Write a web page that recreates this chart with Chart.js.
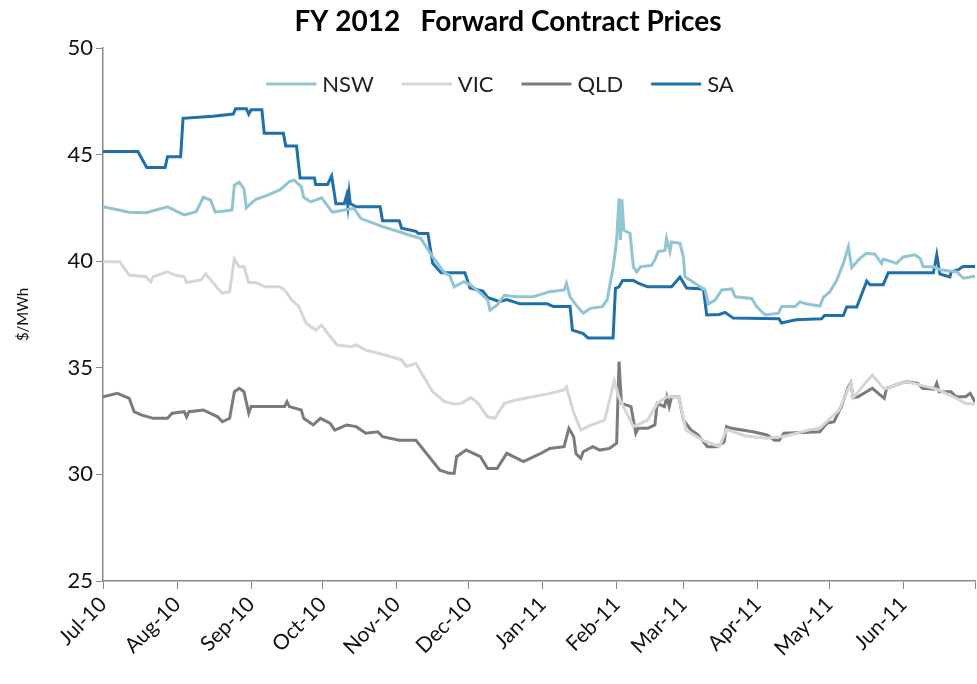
<!DOCTYPE html>
<html lang="en">
<head>
    <meta charset="UTF-8">
    <title>FY 2012 Forward Contract Prices</title>
    <style>
        html, body { margin: 0; padding: 0; background: #fff; overflow: hidden; }
        .chart-container { width: 977px; height: 684px; position: relative; }
    </style>
</head>
<body>
<div class="chart-container">
    <canvas id="prices"></canvas>
</div>

<script src="https://cdn.jsdelivr.net/npm/chart.js@4.4.1/dist/chart.umd.min.js"></script>
<script>
    // x values are days since 1 Jul 2010
    const monthTicks = [0, 31, 62, 92, 123, 153, 184, 215, 243, 274, 304, 335, 365];
    const monthLabels = ['Jul-10', 'Aug-10', 'Sep-10', 'Oct-10', 'Nov-10', 'Dec-10',
        'Jan-11', 'Feb-11', 'Mar-11', 'Apr-11', 'May-11', 'Jun-11', ''];

    const seriesNames = ['NSW', 'VIC', 'QLD', 'SA'];

    const nswDays = [0, 11, 18, 27, 34, 39, 42, 45, 47, 54, 55, 57, 59, 60, 62, 64, 69, 74, 78, 80, 83, 84, 87, 91.5,
        96, 101, 105, 108, 117, 124, 128, 133, 138, 143, 145, 147, 151, 154, 158, 161, 162, 165, 168, 173, 180,
        187, 193, 194, 195.5, 198, 201, 204, 209, 211, 213.6, 215, 216, 216.6, 217.2, 218, 220.6, 222, 223.4, 225,
        229.6, 231, 232.4, 235.2, 235.9, 237.3, 238, 241.5, 242.9, 243.6, 252, 253.4, 256.2, 259, 263.2, 264.6,
        271.5, 273.6, 277.1, 282.7, 284.1, 289.7, 291.8, 294, 300.1, 301.5, 304.3, 307.1, 309.9, 312, 313.4,
        316.8, 319.6, 323.1, 325.9, 326.6, 332.2, 335, 339.9, 342, 343.4, 347.6, 350.4, 357.4, 360.2, 365];
    const nswPrices = [42.55, 42.3, 42.27, 42.55, 42.17, 42.32, 43.0, 42.87, 42.3, 42.4, 43.57, 43.7, 43.4, 42.5,
        42.72, 42.9, 43.1, 43.34, 43.73, 43.8, 43.5, 43.0, 42.78, 42.97, 42.3, 42.4, 42.48, 42.0, 41.62, 41.38,
        41.23, 41.07, 40.2, 39.45, 39.35, 38.8, 39.04, 38.88, 38.5, 38.18, 37.7, 37.95, 38.4, 38.33, 38.33, 38.57,
        38.65, 38.96, 38.33, 37.95, 37.56, 37.79, 37.87, 38.18, 39.74, 40.99, 42.95, 41.0, 42.9, 41.46, 41.3,
        39.74, 39.5, 39.74, 39.8, 40.06, 40.45, 40.5, 41.07, 40.45, 40.9, 40.84, 40.21, 39.27, 38.65, 38.0, 38.18,
        38.65, 38.7, 38.33, 38.25, 37.87, 37.48, 37.56, 37.87, 37.87, 38.1, 38.0, 37.9, 38.3, 38.57, 39.1, 39.9,
        40.68, 39.7, 40.13, 40.37, 40.33, 39.9, 40.1, 39.9, 40.2, 40.3, 40.13, 39.74, 39.74, 39.6, 39.5, 39.2, 39.3];

    const vicDays = [0, 7, 11, 18, 20, 21, 27, 30, 34, 35, 41, 43, 48, 50, 53, 54.5, 55, 57, 59, 61, 64, 68, 74, 76,
        79, 82, 85, 89, 91.5, 94, 98, 104, 106, 110, 118, 125, 127, 131, 133, 138, 143, 147, 150, 154, 157, 161,
        164, 168, 173, 187, 193, 194, 197, 200, 204, 210, 214, 216, 222, 228, 232, 236, 241, 244, 251, 258, 261,
        269, 278, 286, 296, 300, 308, 313, 314, 322, 327, 336, 349, 356, 361, 365];
    const vicPrices = [39.98, 39.98, 39.35, 39.27, 39.04, 39.27, 39.5, 39.35, 39.27, 39.0, 39.12, 39.4, 38.73, 38.5,
        38.57, 39.74, 40.1, 39.74, 39.74, 39.0, 39.0, 38.8, 38.8, 38.65, 38.18, 37.87, 37.09, 36.77, 37.0, 36.62,
        36.07, 35.99, 36.07, 35.83, 35.6, 35.37, 35.06, 35.21, 34.82, 33.88, 33.41, 33.3, 33.33, 33.6, 33.33, 32.7,
        32.63, 33.33, 33.49, 33.8, 33.96, 34.1, 32.9, 32.08, 32.3, 32.55, 34.4, 33.6, 32.24, 32.55, 33.33, 33.64,
        33.64, 32.08, 31.6, 31.3, 32.1, 31.8, 31.7, 31.8, 32.1, 32.16, 33.0, 34.27, 33.6, 34.66, 34.0, 34.35, 34.0,
        33.64, 33.33, 33.3];

    const qldDays = [0, 6, 11, 13, 16, 21, 27, 29, 34, 35, 36, 42, 48, 50, 53, 55, 57, 59, 61, 62, 64, 76, 77, 78,
        83, 84, 88, 91, 95, 97, 102, 106, 110, 115, 117, 124, 131, 141, 145, 147, 148, 152, 158, 161, 165, 169,
        176, 183, 187, 193, 195, 197, 198, 200, 201, 205, 208, 212, 215, 216, 217, 221, 223, 224, 228, 231, 232,
        235, 236, 237, 238, 241, 243, 246, 249, 253, 257, 260, 261, 263, 272, 278, 281, 283, 285, 300, 303, 306,
        309, 312, 313, 314, 316, 322, 327, 328, 336, 341, 343, 348, 349, 350, 355, 357, 361, 363, 365];
    const qldPrices = [33.64, 33.8, 33.57, 32.94, 32.79, 32.63, 32.63, 32.87, 32.94, 32.7, 32.94, 33.02, 32.7, 32.47,
        32.63, 33.88, 34.04, 33.88, 32.87, 33.18, 33.18, 33.18, 33.41, 33.18, 33.02, 32.63, 32.32, 32.63, 32.4,
        32.08, 32.32, 32.24, 31.93, 32.0, 31.77, 31.6, 31.6, 30.2, 30.05, 30.05, 30.83, 31.14, 30.83, 30.28, 30.28,
        30.99, 30.6, 30.97, 31.22, 31.3, 32.16, 31.77, 30.97, 30.75, 31.06, 31.3, 31.14, 31.22, 31.46, 35.29,
        33.33, 33.18, 31.93, 32.16, 32.16, 32.32, 33.33, 33.18, 33.64, 33.18, 33.64, 33.64, 32.55, 32.1, 31.85,
        31.3, 31.3, 31.53, 32.24, 32.16, 32.0, 31.85, 31.6, 31.6, 31.93, 32.0, 32.4, 32.47, 33.18, 34.1, 34.3,
        33.6, 33.64, 34.04, 33.57, 34.04, 34.35, 34.27, 34.04, 34.0, 34.27, 33.88, 33.88, 33.64, 33.64, 33.8, 33.4];

    const saDays = [0, 14.6, 18.3, 26, 27, 32.5, 33.5, 46, 54.5, 55.5, 60, 61, 62, 66.5, 67.5, 75.5, 76.5, 81, 82.5,
        88.5, 89, 94, 95.7, 97.5, 101, 102, 102.5, 103, 103.5, 106, 116, 117, 124, 125, 131, 132, 136, 138, 141.5,
        151.5, 153.6, 159, 161, 166, 169, 174.5, 186, 188.5, 195.5, 196.5, 201, 203, 213.5, 214.5, 216, 217.5, 222,
        224, 228, 238, 241.5, 244.3, 251.3, 252.7, 258, 260.4, 263.8, 283, 284, 290, 300.8, 302, 309.9, 311.3,
        315.5, 319.7, 321, 326.6, 328.7, 347.6, 349, 350.3, 354.5, 355, 358, 360, 365];
    const saPrices = [45.15, 45.15, 44.4, 44.4, 44.9, 44.9, 46.7, 46.8, 46.9, 47.15, 47.15, 46.9, 47.1, 47.1, 46.0,
        46.0, 45.4, 45.4, 43.9, 43.9, 43.6, 43.6, 44.0, 42.7, 42.7, 43.1, 42.6, 43.2, 42.7, 42.55, 42.55, 41.9, 41.9,
        41.55, 41.4, 41.3, 41.3, 39.9, 39.46, 39.46, 38.74, 38.6, 38.3, 38.1, 38.2, 38.0, 38.0, 37.87, 37.87, 36.77,
        36.6, 36.4, 36.4, 38.73, 38.8, 39.1, 39.1, 38.97, 38.8, 38.8, 39.26, 38.74, 38.7, 37.48, 37.5, 37.6, 37.33,
        37.3, 37.1, 37.25, 37.3, 37.45, 37.45, 37.85, 37.85, 39.07, 38.9, 38.9, 39.46, 39.46, 40.3, 39.4, 39.26,
        39.5, 39.6, 39.75, 39.75];

    const seriesColors = ['#93c4d3', '#d6d6d6', '#7b7b7b', '#1f6fab'];
    const fontFamily = "Lato, 'Open Sans', sans-serif";

    function toPoints(days, prices) {
        return days.map((d, i) => ({x: d, y: prices[i]}));
    }

    const seriesData = [
        toPoints(nswDays, nswPrices),
        toPoints(vicDays, vicPrices),
        toPoints(qldDays, qldPrices),
        toPoints(saDays, saPrices)
    ];

    // title and in-plot legend, drawn in the spots the original uses
    const headerPlugin = {
        id: 'header',
        afterDraw(chart) {
            const ctx = chart.ctx;
            ctx.save();
            ctx.fillStyle = '#000';
            ctx.textBaseline = 'middle';
            ctx.textAlign = 'center';
            ctx.font = 'bold 28px ' + fontFamily;
            ctx.fillText('FY 2012   Forward Contract Prices', 508, 22);

            ctx.font = '22px ' + fontFamily;
            ctx.textAlign = 'left';
            const lineLen = 50, gap = 6, spacing = 28;
            const widths = seriesNames.map(n => ctx.measureText(n).width);
            const total = widths.reduce((a, b) => a + b + lineLen + gap, 0) + spacing * (seriesNames.length - 1);
            let x = 500 - total / 2;
            const y = 84;
            seriesNames.forEach((name, i) => {
                ctx.strokeStyle = seriesColors[i];
                ctx.lineWidth = 3;
                ctx.beginPath();
                ctx.moveTo(x, y);
                ctx.lineTo(x + lineLen, y);
                ctx.stroke();
                ctx.fillStyle = '#222';
                ctx.fillText(name, x + lineLen + gap, y + 1);
                x += lineLen + gap + widths[i] + spacing;
            });
            ctx.restore();
        }
    };

    function main() {
        const ctx = document.getElementById('prices').getContext('2d');
        new Chart(ctx, {
            type: 'line',
            data: {
                datasets: seriesNames.map((name, i) => ({
                    label: name,
                    data: seriesData[i],
                    borderColor: seriesColors[i],
                    backgroundColor: seriesColors[i],
                    borderWidth: 3,
                    pointRadius: 0,
                    fill: false,
                    tension: 0
                }))
            },
            options: {
                responsive: true,
                maintainAspectRatio: false,
                animation: false,
                layout: {padding: {top: 48, right: 2, left: 0, bottom: 0}},
                plugins: {
                    legend: {display: false},
                    title: {display: false},
                    tooltip: {enabled: false}
                },
                scales: {
                    x: {
                        type: 'linear',
                        min: 0,
                        max: 365,
                        afterBuildTicks: scale => {
                            scale.ticks = monthTicks.map(v => ({value: v}));
                        },
                        afterFit: scale => {
                            scale.height = 103;
                            scale.paddingRight = 0;
                        },
                        ticks: {
                            autoSkip: false,
                            maxRotation: 45,
                            minRotation: 45,
                            color: '#111',
                            font: {family: fontFamily, size: 21},
                            callback: (value) => monthLabels[monthTicks.indexOf(value)]
                        },
                        grid: {
                            drawOnChartArea: false,
                            drawTicks: true,
                            tickLength: 8,
                            color: '#8a8a8a'
                        },
                        border: {display: true, color: '#8a8a8a', width: 1.5}
                    },
                    y: {
                        min: 25,
                        max: 50,
                        afterFit: scale => {
                            scale.width = 103;
                        },
                        ticks: {
                            stepSize: 5,
                            color: '#111',
                            padding: 3,
                            font: {family: fontFamily, size: 22}
                        },
                        grid: {
                            drawOnChartArea: false,
                            drawTicks: true,
                            tickLength: 7,
                            color: '#8a8a8a'
                        },
                        border: {display: true, color: '#8a8a8a', width: 1.5},
                        title: {
                            display: true,
                            text: '$/MWh',
                            color: '#111',
                            padding: {top: 14, bottom: 0},
                            font: {family: fontFamily, size: 15}
                        }
                    }
                }
            },
            plugins: [headerPlugin]
        });
    }

    main();
</script>
</body>
</html>
